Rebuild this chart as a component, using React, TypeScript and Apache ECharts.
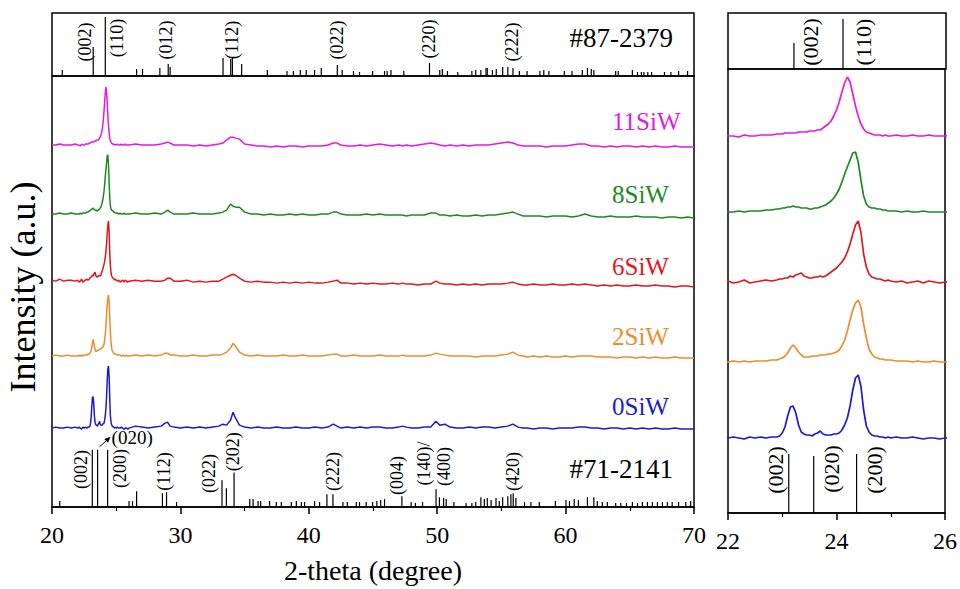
import { useEffect, useRef } from "react";
import * as echarts from "echarts";

// 2θ sampling grid (degrees), shared by every pattern
const twoTheta = [
  20.0, 20.3, 20.6, 20.9, 21.2, 21.5, 21.8,
  22.0, 22.1, 22.2, 22.3, 22.4, 22.5, 22.6, 22.7, 22.8, 22.9,
  22.95, 23.0, 23.05, 23.1, 23.15, 23.2, 23.25, 23.3, 23.35, 23.4,
  23.45, 23.5, 23.55, 23.6, 23.65, 23.7, 23.75, 23.8, 23.85, 23.9,
  23.95, 24.0, 24.05, 24.1, 24.15, 24.2, 24.25, 24.3, 24.35, 24.4,
  24.45, 24.5, 24.55, 24.6, 24.65, 24.7, 24.75, 24.8, 24.85, 24.9,
  24.95, 25.0, 25.1, 25.2, 25.3, 25.4, 25.5, 25.6, 25.7, 25.8, 25.9, 26.0,
  26.5, 27, 27.5, 28, 28.5, 28.8, 29.0, 29.2, 29.5, 30,
  30.5, 31, 31.5, 32, 32.5, 33, 33.3, 33.6, 33.9, 34.1,
  34.3, 34.6, 35, 35.5, 36, 36.5, 37, 37.5, 38, 38.5,
  39, 39.5, 40, 40.5, 41, 41.5, 41.9, 42.2, 42.5, 43,
  43.5, 44, 44.5, 45, 45.5, 46, 46.5, 47, 47.3, 47.6,
  48, 48.5, 49, 49.5, 49.9, 50.2, 50.6, 51, 51.5, 52,
  52.5, 53, 53.5, 54, 54.5, 55, 55.5, 55.9, 56.3, 56.7,
  57, 57.5, 58, 58.5, 59, 59.5, 60, 60.5, 61, 61.5,
  62, 62.5, 63, 63.5, 64, 64.5, 65, 65.5, 66, 66.5,
  67, 67.5, 68, 68.5, 69, 69.5, 70,
];

// Intensities above each pattern's own baseline (a.u.)
const i0SiW = [
  0, 1, 0, 0, 1, 0, 1,
  0, 1, 0, -1, 1, 0, 1, 0, 1, 1,
  2, 5, 11, 22, 31, 32, 25, 13, 6, 4,
  3, 3, 2, 4, 5, 7, 4, 3, 3, 3,
  4, 4, 5, 8, 13, 20, 32, 48, 60, 63,
  52, 28, 12, 6, 3, 2, 2, 1, 1, 0,
  1, 0, 1, 0, 0, 1, 0, -1, 0, 0, -1, 0,
  2, 1, 0, 1, 2, 5, 6, 2, 1, 0,
  1, 0, 1, 0, 1, 2, 4, 3, 8, 16,
  10, 3, 1, 0, 1, 0, 0, 1, 0, 0,
  1, 0, 0, 1, 0, 1, 4, 2, 0, 1,
  0, 1, 0, 1, 1, 0, 0, 1, 2, 1,
  0, 0, 1, 1, 7, 3, 4, 1, 0, 0,
  1, 0, 1, 1, 0, 1, 2, 4, 1, 0,
  0, -1, 0, 0, -1, 0, 0, 0, 1, 1,
  0, 0, -1, 0, 0, -1, 0, -1, 0, -1,
  0, -1, -1, 0, -1, -1, -1,
];

const i2SiW = [
  0, 1, 0, 0, 1, 0, 0,
  0, 1, 0, 1, 0, 1, 1, 1, 2, 2,
  3, 4, 6, 9, 14, 17, 14, 10, 7, 5,
  5, 5, 6, 6, 6, 7, 7, 7, 8, 8,
  9, 10, 12, 16, 22, 31, 42, 52, 59, 62,
  55, 38, 24, 13, 8, 5, 4, 3, 3, 2,
  2, 2, 1, 1, 1, 0, 1, 0, 0, 1, 0, 0,
  1, 0, 1, 0, 1, 3, 3, 1, 1, 0,
  0, 1, 0, 0, 1, 1, 2, 4, 8, 13,
  10, 4, 1, 0, 1, 0, 0, 0, 1, 0,
  0, 1, 0, 0, 0, 1, 2, 2, 0, 0,
  1, 0, 0, 0, 1, 0, 0, 0, 1, 0,
  0, 0, 0, 1, 3, 2, 1, 0, 0, 0,
  0, -1, 0, 0, 0, 1, 2, 4, 1, 0,
  -1, 0, -1, 0, -1, -1, 0, -1, 0, 0,
  0, -1, -1, -1, -2, -1, -1, -2, -1, -2,
  -1, -2, -2, -1, -2, -2, -2,
];

const i6SiW = [
  1, 0, 2, 0, 1, 1, 0,
  1, -1, 0, 2, -1, 0, 1, 2, 1, 2,
  3, 3, 4, 4, 6, 5, 7, 8, 9, 6,
  5, 4, 4, 5, 5, 6, 5, 6, 8, 10,
  12, 14, 17, 20, 24, 30, 38, 48, 57, 61,
  50, 28, 15, 8, 5, 4, 3, 3, 2, 1,
  2, 1, 0, 1, -1, 0, 1, -1, 1, 0, -1, 0,
  1, 0, 1, 0, 0, 1, 3, 3, 0, 0,
  1, -1, 0, -1, 0, 0, 2, 4, 6, 7,
  6, 3, 0, -1, 0, -1, -1, -2, -1, -2,
  -1, -2, -1, -2, -2, -1, 0, 1, -2, -2,
  -3, -2, -3, -2, -3, -3, -2, -3, -2, -3,
  -3, -4, -3, -3, 0, -2, -3, -3, -4, -3,
  -4, -3, -4, -3, -3, -3, -2, -1, -3, -4,
  -4, -3, -4, -4, -3, -4, -4, -3, -4, -3,
  -4, -5, -4, -5, -4, -5, -5, -4, -5, -5,
  -4, -5, -5, -6, -5, -5, -6,
];

const i8SiW = [
  0, 0, 1, 0, 0, 1, 0,
  0, 0, 1, 0, 1, 1, 1, 2, 2, 3,
  3, 4, 4, 5, 5, 6, 5, 5, 4, 4,
  4, 3, 3, 4, 4, 5, 6, 7, 9, 11,
  14, 18, 23, 30, 38, 45, 52, 59, 60, 50,
  32, 16, 8, 5, 4, 4, 3, 3, 2, 2,
  1, 1, 1, 0, 1, 0, 0, 1, 0, 0, 0, 0,
  1, 0, 0, 1, 0, 2, 4, 2, 0, 0,
  0, 1, 0, 0, 0, 1, 2, 4, 10, 8,
  7, 7, 2, 0, 0, -1, 0, -1, -1, 0,
  -1, 0, -1, -1, 0, 0, 2, 2, 0, -1,
  -1, -1, 0, -1, 0, -1, -1, -1, -1, -2,
  -1, -1, -1, 1, 1, -1, -1, -2, -1, -2,
  -2, -1, -2, -1, -1, 0, 1, 2, 0, -2,
  -2, -2, -2, -3, -2, -2, -2, -3, -2, 0,
  -2, -3, -3, -2, -3, -3, -3, -2, -3, -3,
  -3, -4, -3, -3, -4, -3, -4,
];

const i11SiW = [
  0, 0, 1, 0, 0, 0, 1,
  0, 0, -1, 1, 0, 0, 1, 1, 1, 2,
  2, 2, 3, 3, 3, 3, 3, 4, 4, 4,
  4, 5, 5, 5, 6, 6, 8, 10, 12, 15,
  20, 26, 34, 44, 53, 59, 54, 42, 30, 20,
  12, 7, 4, 3, 2, 1, 1, 1, 0, 1,
  0, 0, 1, 0, 0, 1, 0, 0, 1, 0, 0, 0,
  1, 0, 0, 0, 1, 2, 3, 2, 0, 0,
  0, -1, 0, -1, 0, 1, 2, 5, 8, 8,
  7, 6, 1, 0, -1, -1, -2, -1, -2, -1,
  -1, -2, -1, -1, -1, 0, 2, 2, 0, -1,
  -1, 0, -1, 0, 1, 0, -1, 0, -1, 0,
  -1, 0, 1, 2, 1, 0, -1, 0, -1, 0,
  -1, 0, 0, 0, 1, 2, 3, 2, 0, -1,
  -1, -1, -1, -2, -1, -1, -1, 0, 1, 1,
  -1, -1, -2, -1, -2, -1, -1, -2, -1, -2,
  -1, -2, -2, -1, -2, -2, -2,
];

const sampleNames = ["0SiW", "2SiW", "6SiW", "8SiW", "11SiW"];
const sampleIntensity = [i0SiW, i2SiW, i6SiW, i8SiW, i11SiW];

// Reference pattern #87-2379: [2θ, relative intensity]
const pdf87_2379 = [
  [20.8, 6], [23.21, 29], [24.15, 59], [26.59, 7], [27.05, 7], [28.4, 8], [29.05, 12], [29.2, 9],
  [33.32, 18], [33.92, 17], [34.05, 19], [34.77, 12], [36.77, 6], [38.3, 5], [38.8, 5], [39.34, 6],
  [39.8, 6], [40.45, 6], [40.97, 8], [42.22, 11], [42.6, 6], [43.48, 5], [43.95, 4], [44.97, 5],
  [45.9, 5], [46.1, 5], [46.4, 6], [47.4, 5], [49.4, 13], [50.2, 6], [50.4, 7], [50.8, 5],
  [51.6, 4], [52.7, 5], [53.0, 6], [53.4, 6], [53.8, 8], [53.9, 8], [54.3, 6], [54.6, 7],
  [55.1, 9], [55.5, 9], [55.9, 8], [56.4, 5], [57.0, 5], [58.0, 5], [58.3, 6], [58.7, 5],
  [59.9, 5], [60.5, 5], [61.3, 6], [61.7, 8], [62.0, 7], [62.2, 6], [63.9, 5], [64.1, 5],
  [65.2, 6], [65.6, 4], [65.9, 4], [66.1, 4], [66.4, 4], [66.7, 4], [67.7, 4], [68.2, 4],
  [68.8, 5], [69.5, 5],
];

// Reference pattern #71-2141: [2θ, relative intensity]
const pdf71_2141 = [
  [20.6, 6], [23.14, 58], [23.55, 58], [24.33, 58], [26.0, 6], [26.27, 6], [26.59, 16],
  [28.6, 14], [28.92, 15], [29.7, 5], [33.24, 27], [33.58, 19], [34.18, 35], [35.4, 8],
  [35.66, 8], [36.05, 6], [36.25, 6], [36.95, 6], [37.47, 5], [37.86, 5], [38.64, 5],
  [39.03, 6], [39.42, 5], [39.67, 5], [40.45, 6], [40.84, 5], [41.41, 13], [41.88, 13],
  [42.66, 5], [43.0, 5], [43.7, 5], [43.95, 5], [44.47, 5], [44.97, 5], [45.3, 6], [45.6, 7],
  [45.9, 8], [47.25, 11], [47.97, 5], [48.3, 4], [48.86, 5], [49.91, 18], [50.17, 10],
  [50.5, 9], [50.7, 8], [51.3, 5], [52.25, 4], [52.7, 4], [53.0, 5], [53.4, 10], [53.67, 8],
  [53.9, 9], [54.2, 7], [54.58, 9], [54.83, 6], [55.1, 10], [55.5, 11], [55.74, 13],
  [55.92, 14], [56.13, 9], [56.8, 5], [57.3, 5], [57.95, 5], [59.2, 6], [60.03, 7], [60.3, 6],
  [60.67, 8], [61.0, 7], [61.7, 10], [62.2, 10], [62.47, 6], [62.86, 5], [63.25, 5], [63.9, 4],
  [64.3, 4], [64.74, 4], [65.2, 5], [65.6, 4], [65.98, 5], [66.37, 5], [66.76, 5], [67.15, 5],
  [67.54, 5], [67.93, 5], [68.3, 5], [68.8, 5], [69.36, 5], [69.74, 6],
];

// Reflections shown in the 22–26° detail panel
const detail87_2379 = [[23.21, 26], [24.11, 50]];
const detail71_2141 = [[23.12, 59], [23.58, 57], [24.37, 59]];

// Indexed reflections: [hkl, 2θ]
const hkl87Main: [string, number][] = [
  ["(002)", 23.21], ["(110)", 24.15], ["(012)", 29.05], ["(112)", 34.0],
  ["(022)", 42.22], ["(220)", 49.4], ["(222)", 55.8],
];
const hkl71Main: [string, number][] = [
  ["(002)", 23.14], ["(200)", 24.33], ["(112)", 28.75], ["(022)", 33.24], ["(202)", 34.18],
  ["(222)", 41.65], ["(004)", 47.25], ["(140)/", 49.91], ["(400)", 49.91], ["(420)", 55.92],
];
const hkl87Detail: [string, number][] = [["(002)", 23.21], ["(110)", 24.11]];
const hkl71Detail: [string, number][] = [["(002)", 23.12], ["(020)", 23.58], ["(200)", 24.37]];
const arrowed020 = [[23.55, 58]];

// ---- styling ----
const SERIF = "'Liberation Serif', 'Times New Roman', Times, serif";
const sampleColors = ["#1a1ad2", "#ee8c2c", "#e4161c", "#1e8a1e", "#e41ae4"];
const baselineMain = [80, 153, 229, 297, 367];
const baselineDetail = [75, 151, 231, 301, 377];
const sampleLabelY = [406, 336, 266, 194, 121];

// label placement: [dx px, height above baseline]
const nudge87Main: Record<string, [number, number]> = {
  "(002)": [-8, 34], "(110)": [12, 38], "(012)": [-2, 36], "(220)": [0, 37], "(222)": [0, 34],
};
const nudge71Main: Record<string, [number, number]> = {
  "(002)": [-11, 38], "(200)": [12, 39], "(112)": [0, 36], "(022)": [-13, 34], "(202)": [-1, 56],
  "(222)": [3, 36], "(004)": [-5, 32], "(140)/": [-12, 44], "(400)": [8, 41], "(420)": [0, 36],
};
const nudge87Detail: Record<string, [number, number]> = { "(002)": [17, 27], "(110)": [21, 27] };
const nudge71Detail: Record<string, [number, number]> = {
  "(002)": [-13, 43], "(020)": [18, 44], "(200)": [18, 43],
};

function stickSeries(data: number[][], xi: number, yi: number) {
  return {
    type: "custom",
    xAxisIndex: xi,
    yAxisIndex: yi,
    data,
    silent: true,
    encode: { x: 0, y: 1 },
    renderItem: (_p: any, api: any) => {
      const b = api.coord([api.value(0), 0]);
      const t = api.coord([api.value(0), api.value(1)]);
      return {
        type: "line",
        shape: { x1: b[0], y1: b[1], x2: t[0], y2: t[1] },
        style: { stroke: "#000", lineWidth: 1.2 },
      };
    },
  };
}

function hklSeries(
  labels: [string, number][],
  nudge: Record<string, [number, number]>,
  fallback: [number, number],
  fontSize: number,
  xi: number,
  yi: number
) {
  return {
    type: "custom",
    xAxisIndex: xi,
    yAxisIndex: yi,
    data: labels.map((l) => [l[1], 0]),
    silent: true,
    renderItem: (params: any, api: any) => {
      const [hkl, theta] = labels[params.dataIndex];
      const [dx, dy] = nudge[hkl] ?? fallback;
      const p = api.coord([theta, dy]);
      return {
        type: "text",
        x: p[0] + dx,
        y: p[1],
        rotation: Math.PI / 2,
        style: {
          text: hkl,
          fontSize,
          fontFamily: SERIF,
          fill: "#000",
          align: "center",
          verticalAlign: "middle",
        },
      };
    },
  };
}

function arrowSeries() {
  return {
    type: "custom",
    xAxisIndex: 1,
    yAxisIndex: 1,
    data: arrowed020,
    silent: true,
    renderItem: (_p: any, api: any) => {
      const p = api.coord([api.value(0), api.value(1)]);
      const sx = p[0] + 2, sy = p[1] - 3;
      const ex = p[0] + 13, ey = p[1] - 13;
      const len = Math.hypot(ex - sx, ey - sy);
      const ux = (ex - sx) / len, uy = (ey - sy) / len;
      const bx = ex - ux * 6, by = ey - uy * 6;
      return {
        type: "group",
        children: [
          { type: "line", shape: { x1: sx, y1: sy, x2: bx, y2: by }, style: { stroke: "#000", lineWidth: 1 } },
          {
            type: "polygon",
            shape: { points: [[ex, ey], [bx - uy * 2.6, by + ux * 2.6], [bx + uy * 2.6, by - ux * 2.6]] },
            style: { fill: "#000" },
          },
          {
            type: "text",
            x: ex + 1,
            y: ey + 1,
            style: { text: "(020)", fontSize: 19, fontFamily: SERIF, fill: "#000", align: "left", verticalAlign: "middle" },
          },
        ],
      };
    },
  };
}

function buildOption() {
  const hiddenX = (gi: number, min: number, max: number) => ({
    gridIndex: gi, type: "value", min, max, show: false,
  });
  const shownX = (gi: number, min: number, max: number, interval: number, name?: string) => ({
    gridIndex: gi,
    type: "value",
    min,
    max,
    interval,
    axisLine: { show: true, onZero: false, lineStyle: { color: "#000", width: 1.5 } },
    axisTick: { show: true, length: 7, lineStyle: { color: "#000", width: 1.5 } },
    minorTick: { show: true, splitNumber: 2, length: 4, lineStyle: { color: "#000", width: 1.2 } },
    axisLabel: { color: "#000", fontSize: 24, fontFamily: SERIF, margin: 16 },
    splitLine: { show: false },
    minorSplitLine: { show: false },
    name,
    nameLocation: "middle",
    nameGap: 49,
    nameTextStyle: { color: "#000", fontSize: 28, fontFamily: SERIF },
  });
  const hiddenY = (gi: number, max: number) => ({
    gridIndex: gi, type: "value", min: 0, max, show: false, splitLine: { show: false },
  });
  const box = { show: true, borderColor: "#000", borderWidth: 1.5, backgroundColor: "transparent" };

  const mainLines = sampleNames.map((name, k) => ({
    type: "line",
    name,
    xAxisIndex: 1,
    yAxisIndex: 1,
    data: twoTheta.map((t, i) => [t, sampleIntensity[k][i] + baselineMain[k]]),
    symbol: "none",
    clip: true,
    silent: true,
    lineStyle: { color: sampleColors[k], width: 1.5 },
  }));
  const detailLines = sampleNames.map((name, k) => ({
    type: "line",
    name: name + " detail",
    xAxisIndex: 3,
    yAxisIndex: 3,
    data: twoTheta
      .map((t, i) => [t, sampleIntensity[k][i] + baselineDetail[k]])
      .filter((d) => d[0] >= 21.8 && d[0] <= 26.5),
    symbol: "none",
    clip: true,
    silent: true,
    lineStyle: { color: sampleColors[k], width: 1.7 },
  }));

  const graphic: any[] = [
    {
      type: "text", x: 23, y: 287, rotation: Math.PI / 2,
      style: { text: "Intensity (a.u.)", fontSize: 36, fontFamily: SERIF, fill: "#000", align: "center", verticalAlign: "middle" },
    },
    {
      type: "text", x: 673, y: 38,
      style: { text: "#87-2379", fontSize: 27, fontFamily: SERIF, fill: "#000", align: "right", verticalAlign: "middle" },
    },
    {
      type: "text", x: 673, y: 469,
      style: { text: "#71-2141", fontSize: 27, fontFamily: SERIF, fill: "#000", align: "right", verticalAlign: "middle" },
    },
    ...sampleNames.map((name, k) => ({
      type: "text", x: 612, y: sampleLabelY[k],
      style: { text: name, fontSize: 25, fontFamily: SERIF, fill: sampleColors[k], align: "left", verticalAlign: "middle" },
    })),
  ];

  return {
    animation: false,
    backgroundColor: "#fff",
    grid: [
      { left: 52, top: 13, width: 642, height: 63, ...box },
      { left: 52, top: 76, width: 642, height: 437, ...box },
      { left: 728, top: 13, width: 218, height: 56, ...box },
      { left: 728, top: 69, width: 218, height: 444, ...box },
    ],
    xAxis: [
      hiddenX(0, 20, 70),
      shownX(1, 20, 70, 10, "2-theta (degree)"),
      hiddenX(2, 22, 26),
      shownX(3, 22, 26, 2),
    ],
    yAxis: [hiddenY(0, 63), hiddenY(1, 437), hiddenY(2, 56), hiddenY(3, 444)],
    series: [
      ...mainLines,
      ...detailLines,
      stickSeries(pdf87_2379, 0, 0),
      stickSeries(pdf71_2141, 1, 1),
      stickSeries(detail87_2379, 2, 2),
      stickSeries(detail71_2141, 3, 3),
      hklSeries(hkl87Main, nudge87Main, [0, 36], 18, 0, 0),
      hklSeries(hkl71Main, nudge71Main, [0, 36], 18, 1, 1),
      hklSeries(hkl87Detail, nudge87Detail, [18, 27], 22, 2, 2),
      hklSeries(hkl71Detail, nudge71Detail, [18, 43], 22, 3, 3),
      arrowSeries(),
    ],
    graphic,
  };
}

export default function App() {
  const ref = useRef<HTMLDivElement>(null);
  useEffect(() => {
    document.body.style.margin = "0";
    if (!ref.current) return;
    const chart = echarts.init(ref.current, null, { renderer: "svg" });
    chart.setOption(buildOption() as any);
    return () => chart.dispose();
  }, []);
  return <div ref={ref} style={{ width: 960, height: 589, background: "#fff" }} />;
}
